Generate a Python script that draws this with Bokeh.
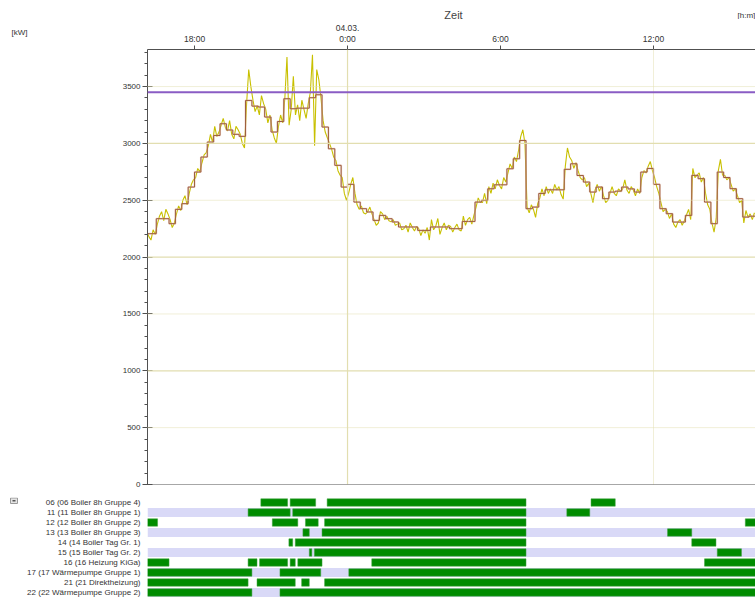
from bokeh.plotting import figure
from bokeh.models import Range1d, FactorRange, FixedTicker, Span
from bokeh.layouts import column, row
from bokeh.embed import file_html
from bokeh.resources import INLINE
from bokeh.core.properties import value

# ---------------- data ----------------
start_hour = 16.0          # 03.03. 16:00
avg_step_hours = 0.25      # 15-minute averages
sample_step_hours = 5 / 60 # 5-minute samples

avg_kw = [
    2206, 2206, 2338, 2338, 2294, 2420, 2470, 2616,
    2748, 2880, 3012, 3070, 3173, 3118, 3080, 3062,
    3378, 3328, 3320, 3232, 3100, 3193, 3393, 3305,
    3310, 3310, 3402, 3428, 3144, 2953, 2807, 2616,
    2640, 2484, 2426, 2397, 2323, 2367, 2338, 2309,
    2265, 2265, 2265, 2235, 2235, 2265, 2265, 2265,
    2250, 2250, 2314, 2314, 2484, 2499, 2601, 2636,
    2636, 2777, 2865, 3026, 2426, 2440, 2560, 2592,
    2592, 2592, 2772, 2821, 2718, 2660, 2572, 2616,
    2514, 2572, 2580, 2616, 2600, 2572, 2748, 2780,
    2640, 2426, 2382, 2308, 2308, 2367, 2719, 2690,
    2484, 2294, 2748, 2700, 2602, 2514, 2352, 2360,
]

load_kw = [
    2300, 2230, 2180, 2150, 2240, 2200, 2290, 2360, 2400, 2320, 2420, 2380,
    2330, 2260, 2300, 2380, 2450, 2410, 2500, 2540, 2460, 2560, 2640, 2680,
    2700, 2780, 2750, 2830, 2900, 2920, 2980, 3080, 3010, 3150, 3060, 3100,
    3160, 3220, 3140, 3110, 3200, 3080, 3040, 3150, 3120, 3080, 3000, 2960,
    3350, 3650, 3500, 3380, 3280, 3330, 3250, 3420, 3350, 3300, 3180, 3250,
    3120, 3050, 3000, 3150, 3250, 3180, 3400, 3760, 3160, 3300, 3590, 3250,
    3340, 3200, 3380, 3300, 3220, 3350, 3450, 3780, 2980, 3650, 3560, 3400,
    3200, 3100, 3050, 3000, 2950, 2880, 2850, 2760, 2720, 2700, 2560, 2500,
    2560, 2640, 2700, 2560, 2460, 2420, 2450, 2390, 2380, 2400, 2440, 2380,
    2330, 2280, 2300, 2400, 2380, 2330, 2360, 2320, 2310, 2330, 2280, 2290,
    2300, 2240, 2250, 2280, 2220, 2300, 2260, 2230, 2270, 2250, 2190, 2240,
    2210, 2260, 2150, 2330, 2240, 2270, 2340, 2200, 2260, 2300, 2240, 2280,
    2270, 2220, 2260, 2290, 2240, 2230, 2360, 2280, 2330, 2350, 2290, 2370,
    2440, 2520, 2480, 2480, 2560, 2470, 2620, 2560, 2650, 2600, 2680, 2630,
    2600, 2700, 2660, 2740, 2820, 2780, 2880, 2840, 2940, 3060, 3120, 3000,
    2440, 2390, 2460, 2420, 2350, 2470, 2520, 2600, 2540, 2620, 2560, 2600,
    2560, 2640, 2590, 2620, 2550, 2510, 2800, 2960, 2880, 2850, 2780, 2830,
    2760, 2700, 2680, 2700, 2620, 2650, 2560, 2480, 2590, 2640, 2580, 2620,
    2540, 2480, 2500, 2560, 2620, 2560, 2540, 2600, 2580, 2600, 2680, 2590,
    2560, 2620, 2590, 2540, 2600, 2560, 2700, 2760, 2740, 2800, 2840, 2760,
    2700, 2620, 2560, 2480, 2400, 2420, 2400, 2340, 2380, 2290, 2260, 2310,
    2330, 2280, 2320, 2370, 2420, 2330, 2780, 2700, 2720, 2740, 2660, 2700,
    2560, 2460, 2420, 2300, 2220, 2340, 2760, 2860, 2720, 2720, 2680, 2700,
    2640, 2580, 2600, 2540, 2480, 2500, 2300, 2410, 2350, 2380, 2330, 2390,
]

limit_kw = 3450
time_ticks = [18, 24, 30, 36]
time_tick_labels = {18: "18:00", 24: "04.03.\n0:00", 30: "6:00", 36: "12:00"}
day_lines = [24]
midday_lines = [36]
kw_ticks = [0, 500, 1000, 1500, 2000, 2500, 3000, 3500]
kw_solid_grid = [1000, 2000, 3000]
kw_dotted_grid = [500, 1500, 2500, 3500]
x_title = "Zeit"
x_unit = "[h:m]"
y_unit = "[kW]"

channels = [
    "06 (06 Boiler 8h Gruppe 4)",
    "11 (11 Boiler 8h Gruppe 1)",
    "12 (12 Boiler 8h Gruppe 2)",
    "13 (13 Boiler 8h Gruppe 3)",
    "14 (14 Boiler Tag Gr. 1)",
    "15 (15 Boiler Tag Gr. 2)",
    "16 (16 Heizung KiGa)",
    "17 (17 Wärmepumpe Gruppe 1)",
    "21 (21 Direktheizung)",
    "22 (22 Wärmepumpe Gruppe 2)",
]
on_channel = (
    [0] * 4 + [1] * 3 + [2] * 5 + [3] * 3 + [4] * 3 + [5] * 3 + [6] * 7 + [7] * 3 + [8] * 4 + [9] * 2
)
on_start = [
    20.6, 21.75, 23.2, 33.55,
    20.1, 21.85, 32.6,
    16.0, 21.05, 22.35, 23.1, 39.6,
    22.25, 23.0, 36.55,
    21.7, 21.95, 37.5,
    22.5, 22.7, 38.5,
    16.0, 20.1, 20.55, 21.75, 22.05, 24.95, 38.0,
    16.0, 21.35, 24.05,
    16.0, 20.45, 22.2, 23.1,
    16.0, 21.35,
]
on_end = [
    21.65, 22.75, 31.0, 34.5,
    21.75, 31.0, 33.5,
    16.55, 22.05, 22.85, 31.0, 40.0,
    22.5, 31.0, 37.5,
    21.85, 31.0, 38.45,
    22.6, 31.0, 39.45,
    17.0, 20.45, 21.65, 21.95, 23.0, 31.0, 40.0,
    20.25, 22.95, 40.0,
    20.1, 21.95, 22.5, 40.0,
    20.25, 40.0,
]

# ---------------- derived ----------------
avg_t = [start_hour + i * avg_step_hours for i in range(len(avg_kw))]
avg_t_full = avg_t + [avg_t[-1] + avg_step_hours]
avg_kw_full = avg_kw + [avg_kw[-1]]
load_t = [start_hour + (i + 0.5) * sample_step_hours for i in range(len(load_kw))]

FONT = "Liberation Sans"
AXIS_COL = "#505050"
TEXT_COL = "#333333"
GRID_COL = "#e2deb0"

TOP_H = 19
MAIN_H = 473
GANTT_H = 107


def kill_title(f):
    f.title.text = ""
    f.title.text_font_size = "0px"
    f.title.standoff = 0
    f.title.offset = 0
    f.title.visible = False


def strip(w, h, x_axis=None, top=0, bottom=0, yr=None):
    """Plain pixel-space figure used for free-standing texts."""
    f = figure(width=w, height=h, x_range=Range1d(0, w), y_range=Range1d(0, yr or h),
               output_backend="svg", toolbar_location=None,
               x_axis_location=x_axis, y_axis_location=None,
               min_border=0, min_border_left=0, min_border_right=0,
               min_border_top=top, min_border_bottom=bottom)
    kill_title(f)
    f.outline_line_color = None
    f.xgrid.visible = False
    f.ygrid.visible = False
    return f


# ---- top strip with the axis title and unit ----
top = strip(755, TOP_H)
top.text(x=[453], y=[5], text=[x_title], text_font=value(FONT), text_font_size="11px",
         text_color="#444444", text_align="center", text_baseline="middle")
top.text(x=[737], y=[4.5], text=[x_unit], text_font=value(FONT), text_font_size="8px",
         text_color=TEXT_COL, text_align="left", text_baseline="middle")

# ---- left strip carrying the y unit as a single top tick label ----
left = strip(30, MAIN_H, x_axis="above", top=30, bottom=8)
la = left.xaxis[0]
la.ticker = FixedTicker(ticks=[19])
la.major_label_overrides = {19: y_unit}
la.major_label_text_font = FONT
la.major_label_text_font_size = "8px"
la.major_label_text_color = TEXT_COL
la.major_label_standoff = 13
la.major_tick_out = 0
la.major_tick_in = 0
la.axis_line_color = None
la.major_tick_line_color = None
la.minor_tick_line_color = None

# ---- main chart ----
xr = Range1d(16.155, 40.0)

p = figure(width=725, height=MAIN_H, x_range=xr, y_range=Range1d(0, 3826),
           output_backend="svg", toolbar_location=None, x_axis_location="above",
           min_border_left=117, min_border_right=0, min_border_top=30,
           min_border_bottom=8)
kill_title(p)
p.outline_line_color = None
p.xgrid.visible = False
p.ygrid.visible = False

for v in kw_solid_grid:
    p.add_layout(Span(location=v, dimension="width", line_color=GRID_COL, line_width=1.2))
for v in kw_dotted_grid:
    p.add_layout(Span(location=v, dimension="width", line_color=GRID_COL, line_width=1,
                      line_dash="1 1"))
for v in day_lines:
    p.add_layout(Span(location=v, dimension="height", line_color=GRID_COL, line_width=1.2))
for v in midday_lines:
    p.add_layout(Span(location=v, dimension="height", line_color=GRID_COL, line_width=1,
                      line_dash="1 1"))
p.add_layout(Span(location=0, dimension="width", line_color=AXIS_COL, line_width=1))

p.line(load_t, load_kw, line_color="#c8c000", line_width=1.1)
p.step(avg_t_full, avg_kw_full, mode="after", line_color="#e0b4a4", line_width=2.0, line_alpha=0.5)
p.step(avg_t_full, avg_kw_full, mode="after", line_color="#9c5c3c", line_width=1.0)
p.add_layout(Span(location=limit_kw, dimension="width", line_color="#8a5cc4", line_width=2))

xa = p.xaxis[0]
xa.ticker = FixedTicker(ticks=time_ticks)
xa.major_label_overrides = time_tick_labels
xa.major_label_text_font = FONT
xa.major_label_text_font_size = "8.5px"
xa.major_label_text_line_height = 1.1
xa.major_label_text_color = TEXT_COL
xa.major_label_standoff = 2
xa.major_tick_out = 4
xa.major_tick_in = 0
xa.minor_tick_line_color = None
xa.axis_line_color = AXIS_COL
xa.axis_line_width = 1
xa.major_tick_line_color = AXIS_COL

ya = p.yaxis[0]
ya.ticker = FixedTicker(ticks=kw_ticks, minor_ticks=list(range(0, 3900, 100)))
ya.major_label_text_font = FONT
ya.major_label_text_font_size = "8px"
ya.major_label_text_color = TEXT_COL
ya.major_label_standoff = 2
ya.major_tick_in = 5
ya.major_tick_out = 5
ya.minor_tick_in = 0
ya.minor_tick_out = 3
ya.axis_line_color = AXIS_COL
ya.major_tick_line_color = AXIS_COL
ya.minor_tick_line_color = AXIS_COL

# ---- icon strip beside the Gantt (frame 100 px tall, synced with the Gantt) ----
icon = strip(19, GANTT_H, top=5, bottom=2, yr=100)
icon.quad(left=[10], right=[17], top=[99.5], bottom=[94], fill_color="#e4e4e4",
          line_color="#9a9a9a", line_width=1)
icon.segment(x0=[12], x1=[15], y0=[96.8], y1=[96.8], line_color="#555555", line_width=1.5)

# ---- Gantt ----
g = figure(width=736, height=GANTT_H, x_range=xr, y_range=FactorRange(factors=list(reversed(channels))),
           output_backend="svg", toolbar_location=None, x_axis_location=None,
           min_border_left=128, min_border_right=0, min_border_top=5, min_border_bottom=2)
kill_title(g)
g.outline_line_color = None
g.xgrid.visible = False
g.ygrid.visible = False
band_rows = [c for i, c in enumerate(channels) if i % 2 == 1]
g.hbar(y=band_rows, left=xr.start, right=xr.end, height=0.92, fill_color="#d9d9f7", line_color=None)
g.hbar(y=[channels[i] for i in on_channel], left=on_start, right=on_end, height=0.74,
       fill_color="#008c00", line_color="#40a040", line_width=0.5)
gy = g.yaxis[0]
gy.axis_line_color = None
gy.major_tick_line_color = None
gy.minor_tick_line_color = None
gy.major_tick_out = 0
gy.major_tick_in = 0
gy.major_label_text_font = FONT
gy.major_label_text_font_size = "8px"
gy.major_label_text_color = TEXT_COL
gy.major_label_standoff = 7

layout = column(top, row(left, p, spacing=0), row(icon, g, spacing=0), spacing=0)
open("out.html", "w").write(file_html(layout, INLINE))
